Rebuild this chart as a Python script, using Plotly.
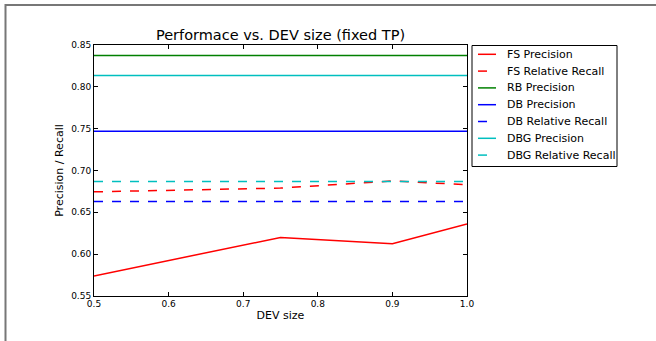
import plotly.graph_objects as go

dev_size = [0.5, 0.75, 0.9, 1.0]
fs_precision = [0.574, 0.620, 0.6125, 0.636]
fs_rel_recall = [0.6745, 0.679, 0.6875, 0.683]
rb_precision = [0.8375, 0.8375, 0.8375, 0.8375]
db_precision = [0.747, 0.747, 0.747, 0.747]
db_rel_recall = [0.663, 0.663, 0.663, 0.663]
dbg_precision = [0.8135, 0.8135, 0.8135, 0.8135]
dbg_rel_recall = [0.687, 0.687, 0.687, 0.687]

series = [
    ("FS Precision", fs_precision, "#ff0000", "solid"),
    ("FS Relative Recall", fs_rel_recall, "#ff0000", "dash"),
    ("RB Precision", rb_precision, "#008000", "solid"),
    ("DB Precision", db_precision, "#0000ff", "solid"),
    ("DB Relative Recall", db_rel_recall, "#0000ff", "dash"),
    ("DBG Precision", dbg_precision, "#00bfbf", "solid"),
    ("DBG Relative Recall", dbg_rel_recall, "#00bfbf", "dash"),
]

L, R, T, B = 94, 467, 45, 296
W, H = 656, 341

def px(x):
    return (x - L) / (R - L)

def py(y):
    return (B - y) / (B - T)

fig = go.Figure()
shapes = [
    # outer frame (top and left edges visible)
    dict(type="rect", xref="paper", yref="paper", x0=px(5.5), x1=px(W + 20), y0=py(5), y1=py(H + 20),
         line=dict(color="#777777", width=2), fillcolor="rgba(0,0,0,0)", layer="below"),
    # legend frame
    dict(type="rect", xref="paper", yref="paper", x0=px(472), x1=px(617), y0=py(45.5), y1=py(166.5),
         line=dict(color="black", width=1), fillcolor="white", layer="below"),
]
annotations = []
row0, step = 54.3, 16.8
for i, (name, vals, color, dash) in enumerate(series):
    fig.add_trace(go.Scatter(x=dev_size, y=vals, name=name, mode="lines", showlegend=False,
                             line=dict(color=color, width=1.5, dash=dash)))
    yy = row0 + i * step
    shapes.append(dict(type="line", xref="paper", yref="paper", x0=px(478), x1=px(496),
                       y0=py(yy), y1=py(yy),
                       line=dict(color=color, width=1.5, dash="dash" if dash == "dash" else "solid")))
    annotations.append(dict(text=name, xref="paper", yref="paper", x=px(505), y=py(yy),
                            xanchor="left", yanchor="middle", showarrow=False,
                            font=dict(size=11, color="black")))

axis_common = dict(showgrid=False, zeroline=False, showline=True, linecolor="black",
                   linewidth=1, mirror="allticks", ticks="inside", ticklen=4,
                   tickcolor="black", tickfont=dict(size=9, color="black"))

fig.update_layout(
    width=W, height=H,
    margin=dict(l=L, r=W - R, t=T, b=H - B),
    paper_bgcolor="white", plot_bgcolor="white",
    font=dict(family="DejaVu Sans", color="black"),
    showlegend=False,
    title=dict(text="Performace vs. DEV size (fixed TP)", x=0.5, xref="paper",
               y=1 - 35 / H, yanchor="middle", font=dict(size=14.5)),
    xaxis=dict(range=[0.5, 1.0], dtick=0.1, tickformat=".1f", ticklabelstandoff=-1,
               title=dict(text="DEV size", font=dict(size=11), standoff=3), **axis_common),
    yaxis=dict(range=[0.55, 0.85], dtick=0.05, tickformat=".2f", ticklabelstandoff=0,
               title=dict(text="Precision / Recall", font=dict(size=11), standoff=5), **axis_common),
    shapes=shapes,
    annotations=annotations,
)

fig.write_html("out.html", config={"displayModeBar": False},
               post_script="document.body.style.margin='0';document.body.style.overflow='hidden';")
